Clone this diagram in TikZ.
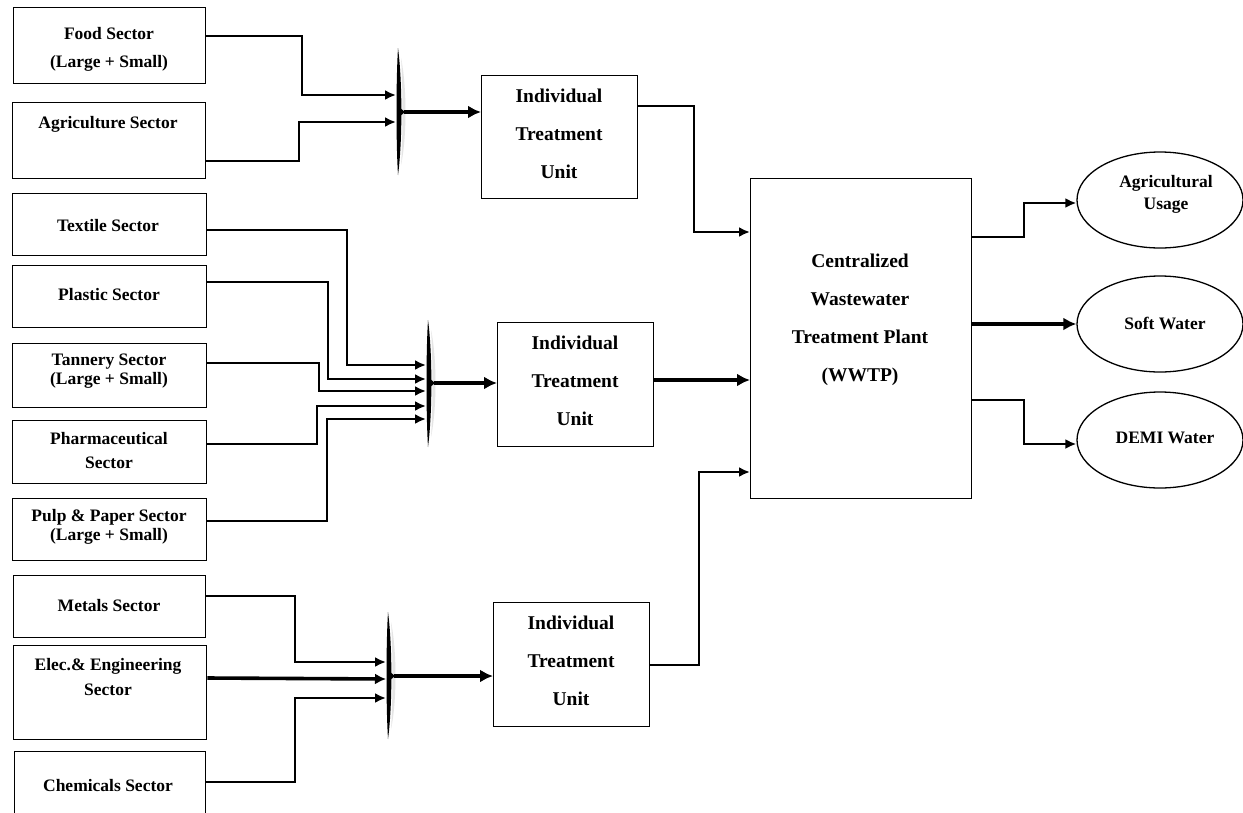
\documentclass[tikz,border=0pt]{standalone}
\usepackage{fontspec}
\setmainfont{Liberation Serif}
\usetikzlibrary{arrows.meta,shapes.geometric}
\newcommand{\mergebar}[4]{% x, top, bottom, mid
  \fill[black!10] (#1+3,#2+10) .. controls (#1+9,#4-25) and (#1+9,#4+25) .. (#1+3,#3-10) .. controls (#1+5,#4+25) and (#1+5,#4-25) .. cycle;
  \fill (#1,#2) .. controls (#1+4.5,#4-30) and (#1+4.5,#4+30) .. (#1,#3) .. controls (#1-2,#4+30) and (#1-2,#4-30) .. cycle;
  \fill (#1+1,#4-5) -- (#1+7,#4) -- (#1+1,#4+5) -- cycle;
}
\begin{document}
\begin{tikzpicture}[x=1pt,y=-1pt,
  box/.style={draw,line width=1.4pt,inner sep=0pt,anchor=north west},
  oval/.style={draw,ellipse,line width=1.3pt,inner sep=0pt,minimum width=166pt,minimum height=96pt},
  lbl/.style={font=\bfseries\fontsize{17.5}{20}\selectfont,align=center,inner sep=0pt},
  big/.style={font=\bfseries\fontsize{19.5}{38}\selectfont,align=center,inner sep=0pt},
  conn/.style={line width=2.2pt,-{Latex[length=11pt,width=10pt]}},
  heavy/.style={line width=3.8pt,-{Latex[length=13pt,width=13pt]}},
  heavyline/.style={line width=3.6pt,-{Latex[length=11pt,width=11pt]}}
]
\fill[white] (0,0) rectangle (1243,812);
\useasboundingbox (0,0) rectangle (1243,812);

% sector boxes
\node[box,minimum width=192pt,minimum height=76pt] (food) at (13,7) {};
\node[box,minimum width=193pt,minimum height=76pt] (agri) at (12,102) {};
\node[box,minimum width=194pt,minimum height=62pt] (textile) at (12,193) {};
\node[box,minimum width=194pt,minimum height=62pt] (plastic) at (12,265) {};
\node[box,minimum width=194pt,minimum height=64pt] (tannery) at (12,343) {};
\node[box,minimum width=194pt,minimum height=63pt] (pharma) at (12,420) {};
\node[box,minimum width=194pt,minimum height=62pt] (pulp) at (12,498) {};
\node[box,minimum width=192pt,minimum height=62pt] (metals) at (13,575) {};
\node[box,minimum width=193pt,minimum height=94pt] (elec) at (13,645) {};
\node[box,minimum width=191pt,minimum height=70pt] (chem) at (14,751) {};

\node[lbl,font=\bfseries\fontsize{17.5}{28}\selectfont] (tfood) at (109,49) {Food Sector\\(Large + Small)};
\node[lbl] (tagri) at (108,124) {Agriculture Sector};
\node[lbl] (ttextile) at (108,226) {Textile Sector};
\node[lbl] (tplastic) at (109,295) {Plastic Sector};
\node[lbl,font=\bfseries\fontsize{17.5}{19}\selectfont] (ttannery) at (109,371) {Tannery Sector\\(Large + Small)};
\node[lbl,font=\bfseries\fontsize{17.5}{24}\selectfont] (tpharma) at (109,451) {Pharmaceutical\\Sector};
\node[lbl,font=\bfseries\fontsize{17.5}{19}\selectfont] (tpulp) at (109,527) {Pulp \& Paper Sector\\(Large + Small)};
\node[lbl] (tmetals) at (109,606) {Metals Sector};
\node[lbl,font=\bfseries\fontsize{17.5}{25}\selectfont] (telec) at (108,677) {Elec.\& Engineering\\Sector};
\node[lbl] (tchem) at (108,786) {Chemicals Sector};

% treatment units
\node[box,minimum width=156pt,minimum height=123pt] (itu1) at (481,75) {};
\node[box,minimum width=156pt,minimum height=124pt] (itu2) at (497,322) {};
\node[box,minimum width=156pt,minimum height=124pt] (itu3) at (493,602) {};
\node[big] (titu1) at (559,134) {Individual\\Treatment\\Unit};
\node[big] (titu2) at (575,381) {Individual\\Treatment\\Unit};
\node[big] (titu3) at (571,661) {Individual\\Treatment\\Unit};

% WWTP
\node[box,minimum width=221pt,minimum height=320pt] (wwtp) at (750,178) {};
\node[big] (twwtp) at (860,320) {Centralized\\Wastewater\\Treatment Plant\\(WWTP)};

% outputs
\node[oval] (agr) at (1160,200) {};
\node[oval] (soft) at (1160,324) {};
\node[oval] (demi) at (1160,440) {};
\node[lbl,font=\bfseries\fontsize{17.5}{22}\selectfont] (tagr) at (1166,194) {Agricultural\\Usage};
\node[lbl] (tsoft) at (1165,323) {Soft Water};
\node[lbl] (tdemi) at (1165,438) {DEMI Water};

% merge bars
\mergebar{398}{48}{175}{112}
\mergebar{428}{320}{447}{383}
\mergebar{388}{612}{739}{676}
\coordinate (m1) at (396,112);
\coordinate (m1o) at (404,112);
\coordinate (m2) at (426,383);
\coordinate (m2o) at (434,383);
\coordinate (m3) at (386,676);
\coordinate (m3o) at (394,676);

% group 1
\draw[conn] (food.east |- 0,36) -| (302,95) -- (m1 |- 0,95);
\draw[conn] (agri.east |- 0,161) -| (299,122) -- (m1 |- 0,122);
\draw[heavy] (m1o) -- (itu1.west |- m1o);

% group 2
\draw[conn] (textile.east |- 0,230) -| (347,365) -- (m2 |- 0,365);
\draw[conn] (plastic.east |- 0,282) -| (328,379) -- (m2 |- 0,379);
\draw[conn] (tannery.east |- 0,363) -| (319,391) -- (m2 |- 0,391);
\draw[conn] (pharma.east |- 0,444) -| (317,406) -- (m2 |- 0,406);
\draw[conn] (pulp.east |- 0,521) -| (327,419) -- (m2 |- 0,419);
\draw[heavy] (m2o) -- (itu2.west |- m2o);

% group 3
\draw[conn] (metals.east |- 0,596) -| (295,662) -- (m3 |- 0,662);
\draw[heavyline] (elec.east |- 0,678) -- (m3 |- 0,679);
\draw[conn] (chem.east |- 0,782) -| (295,698) -- (m3 |- 0,698);
\draw[heavy] (m3o) -- (itu3.west |- m3o);

% into WWTP
\draw[conn] (itu1.east |- 0,106) -| (694,232) -- (wwtp.west |- 0,232);
\draw[heavy] (itu2.east |- 0,380) -- (wwtp.west |- 0,380);
\draw[conn] (itu3.east |- 0,665) -| (699,472) -- (wwtp.west |- 0,472);

% out of WWTP
\draw[conn] (wwtp.east |- 0,237) -| (1024,203) -- (agr.west |- 0,203);
\draw[heavy] (wwtp.east |- 0,324) -- (soft.west);
\draw[conn] (wwtp.east |- 0,400) -| (1024,444) -- (demi.west |- 0,444);
\end{tikzpicture}
\end{document}
